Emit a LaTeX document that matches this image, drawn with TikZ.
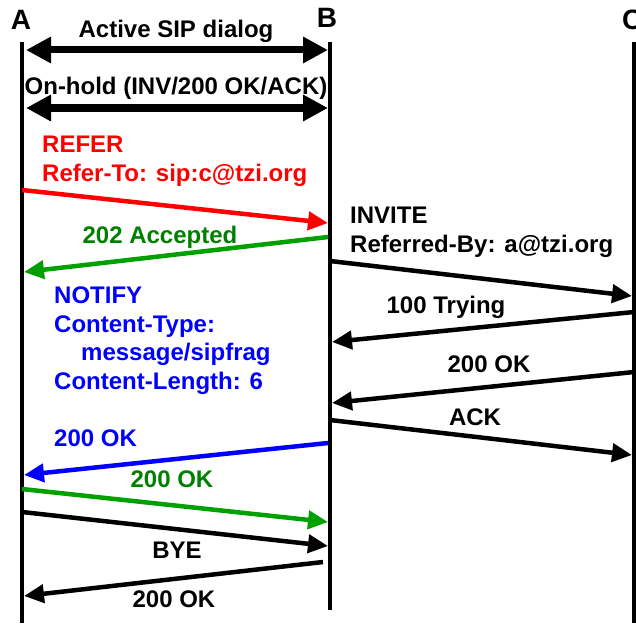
\documentclass[tikz,border=0pt]{standalone}
\usepackage{fontspec}
\setmainfont{Liberation Sans}
\usetikzlibrary{arrows.meta}
\definecolor{myred}{RGB}{255,0,0}
\definecolor{mygreentext}{RGB}{0,128,0}
\definecolor{mygreen}{RGB}{0,160,0}
\definecolor{myblue}{RGB}{0,0,255}
\tikzset{
  lifeline/.style={line width=4.5pt},
  bigarrow/.style={line width=7pt,{Triangle[length=25pt,width=25pt]}-{Triangle[length=25pt,width=25pt]}},
  msg/.style={line width=4.5pt,-{Triangle[length=20pt,width=18pt]}},
  txt/.style={inner sep=0pt,font=\bfseries\fontsize{24}{29}\selectfont},
  ptxt/.style={inner sep=0pt,font=\bfseries\fontsize{28}{30}\selectfont},
}
\begin{document}
\begin{tikzpicture}[x=1pt,y=-1pt]
\useasboundingbox (0,0) rectangle (636,623);
% participants
\node[ptxt,anchor=base] (lA) at (21,30) {A};
\node[ptxt,anchor=base] (lB) at (327,28) {B};
\node[ptxt,anchor=base west] (lC) at (622,30) {C};
\coordinate (Atop) at (22,42);  \coordinate (Abot) at (22,623);
\coordinate (Btop) at (330,42); \coordinate (Bbot) at (330,610);
\coordinate (Ctop) at (634,42); \coordinate (Cbot) at (634,623);
\draw[lifeline] (Atop) -- (Abot);
\draw[lifeline] (Btop) -- (Bbot);
\draw[lifeline] (Ctop) -- (Cbot);
% dialogs
\coordinate (d1a) at (26,50);  \coordinate (d1b) at (328,50);
\coordinate (d2a) at (26,108); \coordinate (d2b) at (328,108);
\node[txt,anchor=base] (t1) at (176,38) {Active SIP dialog};
\draw[bigarrow] (d1a) -- (d1b);
\node[txt,anchor=base] (t2) at (176,95) {On-hold (INV/200 OK/ACK)};
\draw[bigarrow] (d2a) -- (d2b);
% REFER
\node[txt,anchor=base west,text=myred] (t3) at (42,152) {REFER};
\node[txt,anchor=base west,text=myred] (t3b) at (42,181) {Refer-To: sip:c@tzi.org};
\coordinate (m1a) at (22,190); \coordinate (m1b) at (328,223);
\draw[msg,myred] (m1a) -- (m1b);
% 202 Accepted
\node[txt,anchor=base,text=mygreentext] (t4) at (160,243) {202 Accepted};
\coordinate (m2a) at (328,237); \coordinate (m2b) at (24,272);
\draw[msg,mygreen] (m2a) -- (m2b);
% INVITE
\node[txt,anchor=base west] (t5) at (350,223) {INVITE};
\node[txt,anchor=base west] (t5b) at (350,252) {Referred-By: a@tzi.org};
\coordinate (m3a) at (330,261); \coordinate (m3b) at (632,296);
\draw[msg] (m3a) -- (m3b);
% 100 Trying
\node[txt,anchor=base] (t6) at (446,313) {100 Trying};
\coordinate (m4a) at (634,312); \coordinate (m4b) at (332,342);
\draw[msg] (m4a) -- (m4b);
% 200 OK
\node[txt,anchor=base] (t7) at (489,372) {200 OK};
\coordinate (m5a) at (634,372); \coordinate (m5b) at (332,403);
\draw[msg] (m5a) -- (m5b);
% ACK
\node[txt,anchor=base] (t8) at (475,425) {ACK};
\coordinate (m6a) at (330,420); \coordinate (m6b) at (632,455);
\draw[msg] (m6a) -- (m6b);
% NOTIFY
\node[txt,anchor=base west,text=myblue] (t9) at (54,303) {NOTIFY};
\node[txt,anchor=base west,text=myblue] (t9b) at (54,332) {Content-Type:};
\node[txt,anchor=base west,text=myblue] (t9c) at (81,360) {message/sipfrag};
\node[txt,anchor=base west,text=myblue] (t9d) at (54,389) {Content-Length: 6};
\node[txt,anchor=base west,text=myblue] (t10) at (54,446) {200 OK};
\coordinate (m7a) at (328,443); \coordinate (m7b) at (24,475);
\draw[msg,myblue] (m7a) -- (m7b);
% green 200 OK
\node[txt,anchor=base,text=mygreentext] (t11) at (172,487) {200 OK};
\coordinate (m8a) at (22,489); \coordinate (m8b) at (328,522);
\draw[msg,mygreen] (m8a) -- (m8b);
% BYE
\node[txt,anchor=base] (t12) at (177,558) {BYE};
\coordinate (m9a) at (22,512); \coordinate (m9b) at (328,546);
\draw[msg] (m9a) -- (m9b);
% 200 OK
\node[txt,anchor=base] (t13) at (174,607) {200 OK};
\coordinate (m10a) at (323,562); \coordinate (m10b) at (24,596);
\draw[msg] (m10a) -- (m10b);
\end{tikzpicture}
\end{document}
